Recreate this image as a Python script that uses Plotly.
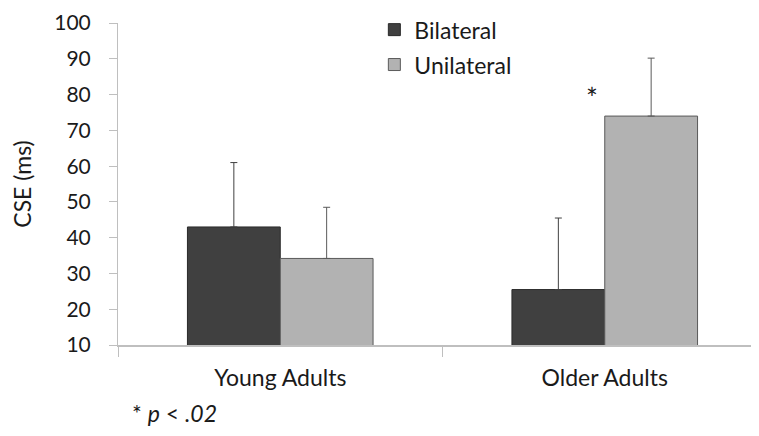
import plotly.graph_objects as go

categories = ["Young Adults", "Older Adults"]
bilateral = [43.0, 25.5]
bilateral_err = [18.0, 20.0]
unilateral = [34.2, 74.0]
unilateral_err = [14.3, 16.2]
y_ticks = [10, 20, 30, 40, 50, 60, 70, 80, 90, 100]

FONT = "Lato, 'Open Sans', sans-serif"
TXT = "#1a1a1a"

fig = go.Figure()
fig.add_trace(go.Bar(
    name="Bilateral", x=categories, y=bilateral,
    marker=dict(color="#404040", line=dict(color="#2a2a2a", width=1)),
    error_y=dict(type="data", array=bilateral_err, symmetric=False, arrayminus=[0, 0],
                 color="#404040", thickness=1, width=3.5),
    legendgroup="a",
))
fig.add_trace(go.Bar(
    name="Unilateral", x=categories, y=unilateral,
    marker=dict(color="#b2b2b2", line=dict(color="#5a5a5a", width=1)),
    error_y=dict(type="data", array=unilateral_err, symmetric=False, arrayminus=[0, 0],
                 color="#5a5a5a", thickness=1, width=3.5),
    legendgroup="b",
))

fig.add_annotation(x="Older Adults", y=79.0, xref="x", yref="y", text="*", showarrow=False,
                   xshift=-13, font=dict(size=28, color=TXT, family=FONT))
fig.add_annotation(x=0.0, y=-0.21, xref="paper", yref="paper", xanchor="left", yanchor="middle",
                   text="* <i>p</i> < <i>.02</i>", showarrow=False, xshift=12,
                   font=dict(size=23, color=TXT, family=FONT))

fig.update_layout(
    width=759, height=436,
    margin=dict(l=110, r=0, t=13, b=99),
    paper_bgcolor="white", plot_bgcolor="white",
    barmode="group", bargap=0.428, bargroupgap=0,
    font=dict(family=FONT, size=23, color=TXT),
    showlegend=True,
    legend=dict(x=0.395, y=1.046, xanchor="left", yanchor="top", bgcolor="rgba(0,0,0,0)",
                font=dict(size=23, color=TXT, family=FONT), tracegroupgap=2,
                itemwidth=30),
    xaxis=dict(range=[-0.5, 1.5], showline=True, linecolor="#bfbfbf", linewidth=1.5,
               ticks="outside", tickson="boundaries", ticklen=10, tickcolor="#bfbfbf",
               showgrid=False, zeroline=False, tickfont=dict(size=23, color=TXT),
               ticklabelstandoff=12),
    yaxis=dict(range=[10, 100.02], tickvals=y_ticks, showline=True, linecolor="#bfbfbf",
               linewidth=1, ticks="outside", ticklen=8, tickcolor="#bfbfbf",
               showgrid=False, zeroline=False, tickfont=dict(size=21, color=TXT),
               ticklabelstandoff=14,
               title=dict(text="CSE (ms)", font=dict(size=23, color=TXT), standoff=22)),
)

fig.write_html("out.html")
